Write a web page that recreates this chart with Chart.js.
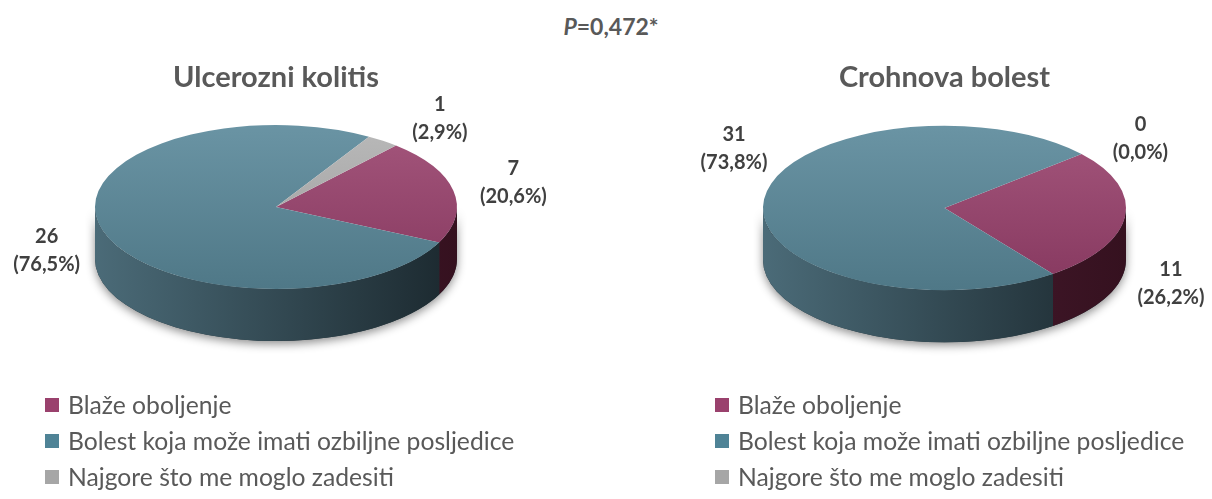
<!DOCTYPE html>
<html>
<head>
<meta charset="utf-8">
<script src="https://cdn.jsdelivr.net/npm/chart.js@4.4.1/dist/chart.umd.min.js"></script>
<style>
  html, body { margin:0; padding:0; background:#ffffff; }
  #wrap { position:relative; width:1212px; height:499px; overflow:hidden; font-family: Lato, "Open Sans", sans-serif; }
  canvas { position:absolute; top:0; }
  .title { position:absolute; font-weight:700; font-size:29px; color:#595959; transform:translateX(-50%); white-space:nowrap; }
  #ptext { position:absolute; left:611px; top:12px; transform:translateX(-50%); font-weight:700; font-size:23px; color:#595959; white-space:nowrap; }
  .legend { position:absolute; font-size:24.7px; color:#595959; }
  .legend .row { position:absolute; left:0; white-space:nowrap; height:28px; line-height:28px; }
  .legend .sw { position:absolute; left:0; top:7px; width:14px; height:14px; }
  .legend .tx { position:absolute; left:23px; top:0; }
</style>
</head>
<body>
<div id="wrap">
  <div id="ptext"><i>P</i>=0,472*</div>
</div>
<script>
// ---------- DATA ----------
const categories = ['Blaže oboljenje', 'Bolest koja može imati ozbiljne posljedice', 'Najgore što me moglo zadesiti'];
const ucValues = [7, 26, 1];
const cdValues = [11, 31, 0];
const chartTitles = ['Ulcerozni kolitis', 'Crohnova bolest'];

// ---------- STYLE / LAYOUT ----------
const topColors  = [['#a4567c', '#86385f'], ['#6a94a4', '#4f7887'], ['#b9b9b9', '#9b9b9b']];
const sideColors = [['#55223b', '#35111f'], ['#4b6b78', '#1b282e'], ['#8a8a8a', '#555555']];
const legendColors = ['#9a416d', '#4f8396', '#a6a6a6'];
const FLAT = 0.453;   // vertical squash of the pie
const DEPTH = 52;     // thickness of the pie
const layouts = [
  { left: 0,   width: 606, cx: 276,   cy: 207, r: 181,   rotation: 41.5, titleY: 58, legendX: 45,
    labelOffsets: [[60, -8], [-56, 20], [57, -22]] },
  { left: 606, width: 606, cx: 338.5, cy: 208, r: 181.5, rotation: 49,   titleY: 58, legendX: 715 - 606,
    labelOffsets: [[46, 67], [-30, -51], [59, -16]] }
];
const H = 499;

const wrap = document.getElementById('wrap');

function fmtPct(v, total) {
  return '(' + (v / total * 100).toFixed(1).replace('.', ',') + '%)';
}

const pie3d = {
  id: 'pie3d',
  beforeDatasetsDraw(chart) {
    const ctx = chart.ctx;
    const meta = chart.getDatasetMeta(0);
    const arcs = meta.data;
    const cx = arcs[0].x, cy = arcs[0].y, R = arcs[0].outerRadius;
    const ry = R * FLAT;
    // shadow under the whole pie
    ctx.save();
    ctx.shadowColor = 'rgba(0,0,0,0.45)';
    ctx.shadowBlur = 10;
    ctx.shadowOffsetY = 3;
    ctx.fillStyle = '#26363e';
    ctx.beginPath();
    ctx.ellipse(cx, cy, R, ry, 0, 0, Math.PI, false);
    ctx.ellipse(cx, cy + DEPTH, R, ry, 0, Math.PI, 0, true);
    ctx.closePath();
    ctx.fill();
    ctx.restore();
    // sides of each slice (front half only)
    arcs.forEach((arc, i) => {
      const s = arc.startAngle, e = arc.endAngle;
      if (e - s <= 0) return;
      const g = ctx.createLinearGradient(cx - R, 0, cx + R, 0);
      g.addColorStop(0, sideColors[i][0]);
      g.addColorStop(1, sideColors[i][1]);
      for (let k = -2; k <= 2; k++) {
        const lo = Math.max(s, 2 * Math.PI * k);
        const hi = Math.min(e, 2 * Math.PI * k + Math.PI);
        if (hi > lo) {
          ctx.save();
          ctx.fillStyle = g;
          ctx.beginPath();
          ctx.ellipse(cx, cy, R, ry, 0, lo, hi, false);
          ctx.ellipse(cx, cy + DEPTH, R, ry, 0, hi, lo, true);
          ctx.closePath();
          ctx.fill();
          ctx.restore();
        }
      }
    });
    // squash the top face
    ctx.save();
    ctx.translate(0, cy);
    ctx.scale(1, FLAT);
    ctx.translate(0, -cy);
  },
  afterDatasetsDraw(chart, args, opts) {
    const ctx = chart.ctx;
    ctx.restore();
    const meta = chart.getDatasetMeta(0);
    const data = chart.data.datasets[0].data;
    const total = data.reduce((a, b) => a + b, 0);
    const offs = opts.offsets;
    ctx.save();
    ctx.fillStyle = '#404040';
    ctx.font = '700 20px Lato, "Open Sans", sans-serif';
    ctx.textAlign = 'center';
    ctx.textBaseline = 'middle';
    meta.data.forEach((arc, i) => {
      const mid = (arc.startAngle + arc.endAngle) / 2;
      const ax = arc.x + arc.outerRadius * Math.cos(mid);
      const ay = arc.y + arc.outerRadius * FLAT * Math.sin(mid);
      const x = ax + offs[i][0], y = ay + offs[i][1];
      ctx.fillText(String(data[i]), x, y - 14);
      ctx.fillText(fmtPct(data[i], total), x, y + 14);
    });
    ctx.restore();
  }
};

function topGradient(c) {
  const i = c.dataIndex;
  const ca = c.chart.chartArea;
  if (!ca || i === undefined) return topColors[i || 0][0];
  const g = c.chart.ctx.createLinearGradient(0, ca.top, 0, ca.bottom);
  g.addColorStop(0, topColors[i][0]);
  g.addColorStop(1, topColors[i][1]);
  return g;
}

[ucValues, cdValues].forEach((values, n) => {
  const L = layouts[n];
  const cv = document.createElement('canvas');
  cv.width = L.width; cv.height = H;
  cv.style.left = L.left + 'px';
  cv.style.width = L.width + 'px'; cv.style.height = H + 'px';
  wrap.appendChild(cv);

  new Chart(cv, {
    type: 'pie',
    data: {
      labels: categories,
      datasets: [{
        data: values,
        backgroundColor: topGradient,
        borderWidth: 0,
        hoverOffset: 0
      }]
    },
    options: {
      responsive: false,
      animation: false,
      events: [],
      rotation: L.rotation,
      layout: { padding: {
        left: L.cx - L.r, right: L.width - (L.cx + L.r),
        top: L.cy - L.r, bottom: H - (L.cy + L.r)
      } },
      plugins: {
        legend: { display: false },
        tooltip: { enabled: false },
        pie3d: { offsets: L.labelOffsets }
      }
    },
    plugins: [pie3d]
  });

  // title
  const t = document.createElement('div');
  t.className = 'title';
  t.textContent = chartTitles[n];
  t.style.left = (L.left + L.cx) + 'px';
  t.style.top = L.titleY + 'px';
  wrap.appendChild(t);

  // legend
  const lg = document.createElement('div');
  lg.className = 'legend';
  lg.style.left = (L.left + L.legendX) + 'px';
  lg.style.top = '391px';
  categories.forEach((cat, i) => {
    const row = document.createElement('div');
    row.className = 'row';
    row.style.top = (i * 36) + 'px';
    const sw = document.createElement('span');
    sw.className = 'sw';
    sw.style.background = legendColors[i];
    const tx = document.createElement('span');
    tx.className = 'tx';
    tx.textContent = cat;
    row.appendChild(sw); row.appendChild(tx);
    lg.appendChild(row);
  });
  wrap.appendChild(lg);
});
</script>
</body>
</html>
